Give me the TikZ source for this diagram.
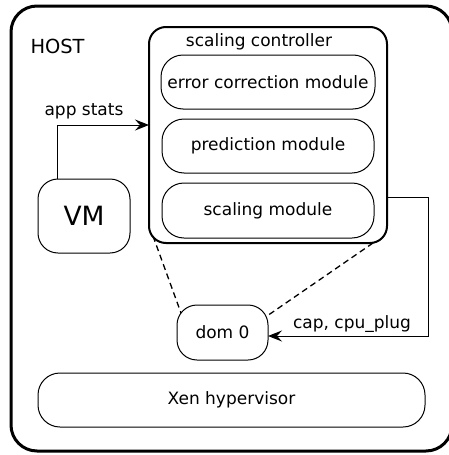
\documentclass[tikz,border=0pt]{standalone}
\usepackage{fontspec}
\setmainfont{DejaVu Sans}
\usetikzlibrary{arrows.meta}
\begin{document}
\begin{tikzpicture}[x=1pt,y=-1pt,
  txt/.style={font=\fontsize{17}{19}\selectfont},
  box/.style={draw,line width=1pt,rounded corners=22pt,inner sep=0pt,txt},
  conn/.style={line width=1pt},
  arr/.style={conn,-{Stealth[length=14pt,width=11pt,inset=5pt]}},
  dsh/.style={line width=1.3pt,dash pattern=on 6pt off 4pt}]
\useasboundingbox (0,0) rectangle (449,455);
\draw[line width=3pt,rounded corners=26pt] (11,6) rectangle (452,451);
\node[txt,font=\fontsize{19.4}{22}\selectfont,anchor=west] (host) at (27,46) {HOST};
\node[draw,line width=2pt,rounded corners=17pt,minimum width=238pt,minimum height=216pt,inner sep=0pt] (ctrl) at (268,135) {};
\node[txt] (ctrltitle) at (259,42) {scaling controller};
\node[box,minimum width=214pt,minimum height=54pt] (ecm) at (268,82) {error correction module};
\node[box,minimum width=212pt,minimum height=54pt] (pm) at (268,146) {prediction module};
\node[box,minimum width=212pt,minimum height=55pt] (sm) at (268,210.5) {scaling module};
\node[box,rounded corners=20pt,minimum width=92pt,minimum height=74pt,font=\fontsize{26.5}{30}\selectfont] (vm) at (84,216) {VM};
\node[box,rounded corners=20pt,minimum width=91pt,minimum height=55pt] (dom) at (222.5,332.5) {dom 0};
\node[box,rounded corners=22pt,minimum width=387pt,minimum height=54pt] (xen) at (231.5,400) {Xen hypervisor};
% app stats
\coordinate (vmtop) at (57,179);
\coordinate (ctrlin) at (149,125);
\draw[arr] (vmtop) |- (ctrlin);
\node[txt] (appstats) at (84,111) {app stats};
% cap, cpu_plug
\coordinate (smout) at (386.5,197);
\coordinate (domin) at (268,336);
\draw[arr] (smout) -- (428,197) |- (domin);
\node[txt] (caplbl) at (352,324) {cap, cpu\_plug};
% dashed
\coordinate (c1) at (153,236);
\coordinate (d1) at (181,313);
\coordinate (c2) at (373,243);
\coordinate (d2) at (267,316);
\draw[dsh] (c1) -- (d1);
\draw[dsh] (c2) -- (d2);
\end{tikzpicture}
\end{document}
